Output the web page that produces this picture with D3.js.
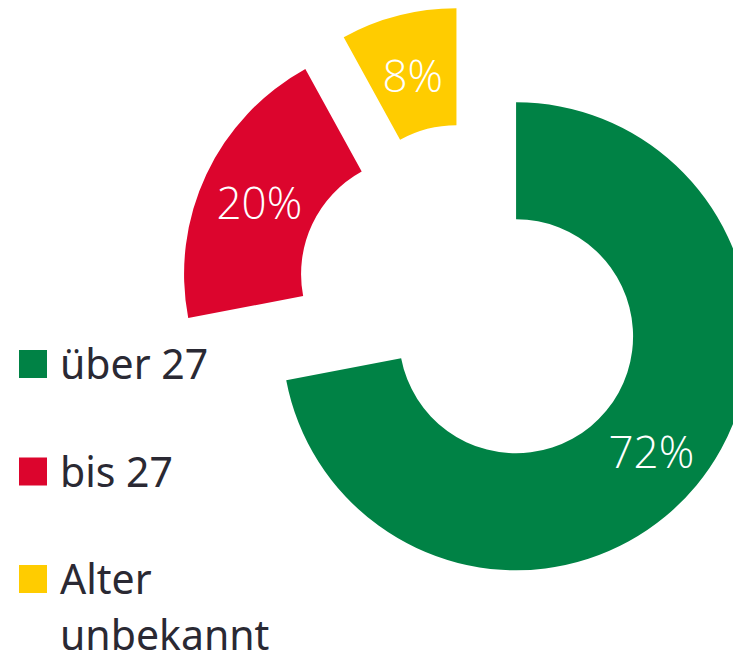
<!DOCTYPE html>
<html>
<head>
<meta charset="utf-8">
<script src="https://cdn.jsdelivr.net/npm/d3@7"></script>
<style>
  html, body { margin: 0; padding: 0; background: #fff; overflow: hidden; }
  svg { display: block; }
</style>
</head>
<body>
<div id="chart"></div>
<script>
// Altersverteilung, Anteile in Prozent
const categories = ['über 27', 'bis 27', 'Alter unbekannt'];
const shares = [72, 20, 8];
const colors = ['#008245', '#dc052d', '#ffcc00'];

const width = 733;
const height = 659;

const svg = d3.select('#chart').append('svg')
  .attr('width', width)
  .attr('height', height);

// donut centre and radii, slices pushed outwards along their mid angle
const cx = 471, cy = 299;
const outerR = 234, innerR = 117;
const explode = 58.5;

const pie = d3.pie().sort(null).value(d => d.value);
const arc = d3.arc().innerRadius(innerR).outerRadius(outerR);

const slices = pie(categories.map((c, i) => ({ name: c, value: shares[i], color: colors[i] })));

const donut = svg.append('g').attr('transform', `translate(${cx},${cy})`);

const slice = donut.selectAll('g.slice')
  .data(slices)
  .join('g')
  .attr('class', 'slice')
  .attr('transform', d => {
    const mid = (d.startAngle + d.endAngle) / 2;
    return `translate(${Math.sin(mid) * explode},${-Math.cos(mid) * explode})`;
  });

slice.append('path')
  .attr('d', arc)
  .attr('fill', d => d.data.color);

slice.append('text')
  .attr('transform', d => `translate(${arc.centroid(d)})`)
  .attr('text-anchor', 'middle')
  .attr('dy', '0.44em')
  .attr('fill', '#fff')
  .style('font-family', '"Open Sans", sans-serif')
  .style('font-weight', 300)
  .style('font-size', '44px')
  .text(d => d.data.value + '%');

// legend
const legend = svg.append('g').attr('transform', 'translate(19,350)');
const rowGap = 107.5;

const item = legend.selectAll('g')
  .data(categories)
  .join('g')
  .attr('transform', (d, i) => `translate(0,${i * rowGap})`);

item.append('rect')
  .attr('width', 28)
  .attr('height', 28)
  .attr('fill', (d, i) => colors[i]);

item.append('text')
  .attr('x', 41)
  .attr('y', 29)
  .attr('fill', '#2a2933')
  .style('font-family', '"Noto Sans", sans-serif')
  .style('font-size', '41px')
  .each(function(d) {
    const words = d.split(' ');
    const lines = d === 'Alter unbekannt' ? words : [d];
    d3.select(this).selectAll('tspan')
      .data(lines)
      .join('tspan')
      .attr('x', 41)
      .attr('dy', (l, j) => j === 0 ? 0 : 56)
      .text(l => l);
  });
</script>
</body>
</html>
